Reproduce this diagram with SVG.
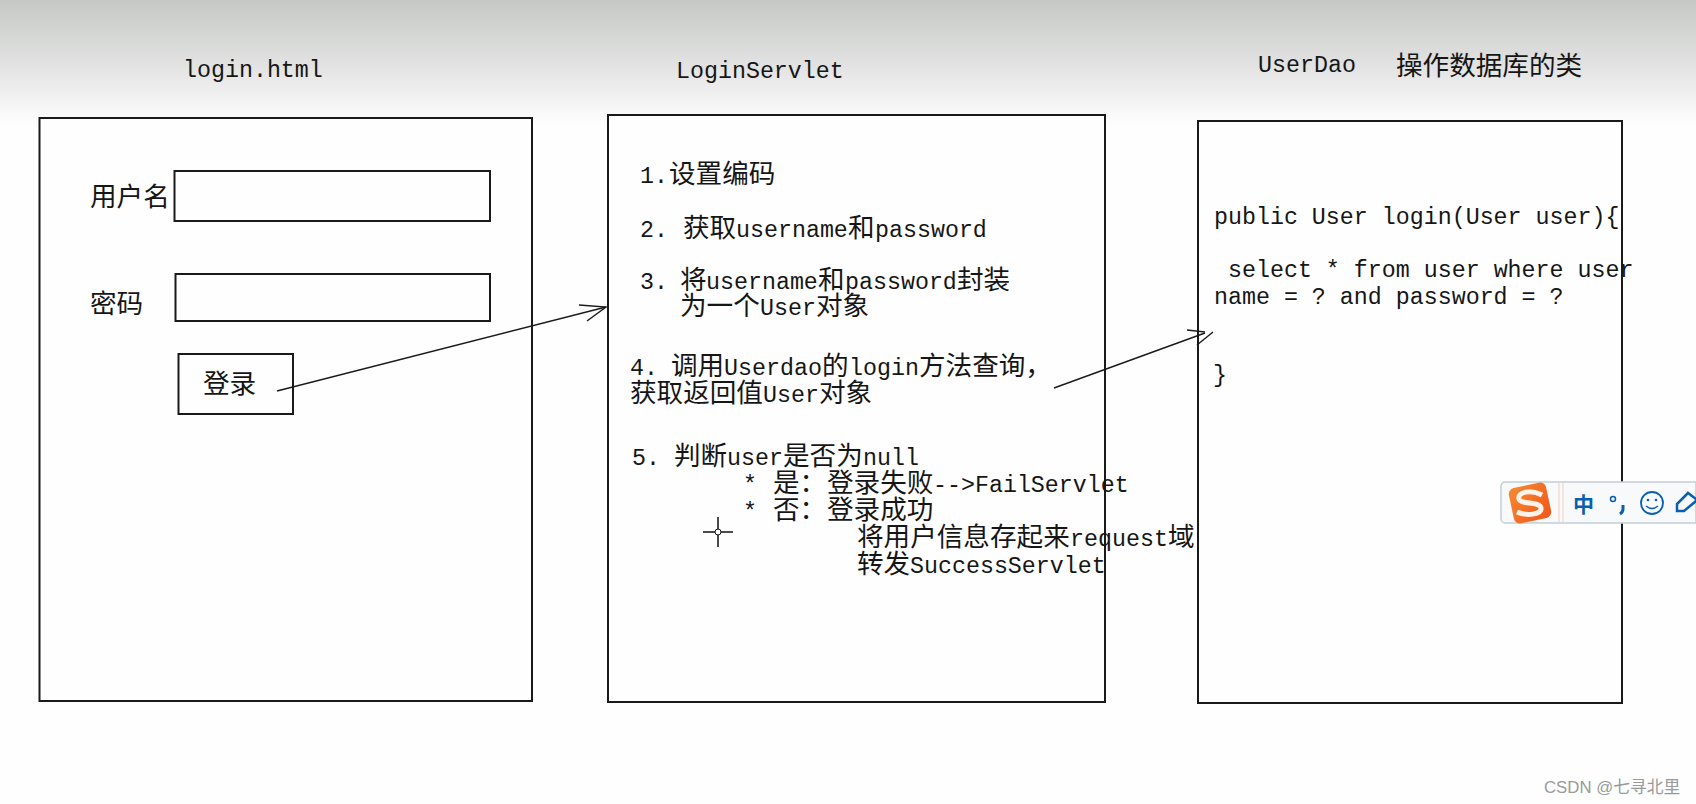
<svg xmlns="http://www.w3.org/2000/svg" width="1696" height="804" viewBox="0 0 1696 804">
<style>
text{font-family:"Liberation Mono","Noto Sans CJK SC",monospace;font-size:23.3px;fill:#161616;white-space:pre}
.c{font-family:"Noto Sans CJK SC","Liberation Sans",sans-serif;font-size:26.6px}
.box{fill:#fdfefd;stroke:#1a1a1a;stroke-width:2}
.thin{fill:none;stroke:#1a1a1a;stroke-width:1.4}
</style>
<defs>
<linearGradient id="top" x1="0" y1="0" x2="0" y2="1">
<stop offset="0" stop-color="#c6c8c6"/><stop offset="0.5" stop-color="#e0e1e0"/><stop offset="1" stop-color="#fdfefd"/>
</linearGradient>
<linearGradient id="sg" x1="0" y1="0" x2="1" y2="1">
<stop offset="0" stop-color="#f58a32"/><stop offset="1" stop-color="#f1561a"/>
</linearGradient>
</defs>
<rect width="1696" height="804" fill="#fdfefd"/>
<rect width="1696" height="125" fill="url(#top)"/>

<g id="login-page">
<rect class="box" x="39.500" y="118" width="492.500" height="583"/>
<text x="183" y="77">login.html</text>
<text x="90" y="206" class="c">用户名</text>
<rect class="box" x="174.500" y="171" width="315.500" height="50"/>
<text x="90" y="313" class="c">密码</text>
<rect class="box" x="175.500" y="274" width="314.500" height="47"/>
<rect class="box" x="178.500" y="354" width="114.500" height="60"/>
<text x="203" y="393" class="c">登录</text>
</g>

<g id="login-servlet">
<rect class="box" x="608" y="115" width="497" height="587"/>
<text x="676" y="78">LoginServlet</text>
<text x="640" y="183">1.<tspan x="669" class="c">设置编码</tspan></text>
<text x="640" y="237">2.<tspan x="683" class="c">获取</tspan><tspan x="736">username</tspan><tspan x="848" class="c">和</tspan><tspan x="875">password</tspan></text>
<text x="640" y="289">3.<tspan x="680" class="c">将</tspan><tspan x="706">username</tspan><tspan x="818" class="c">和</tspan><tspan x="845">password</tspan><tspan x="957" class="c">封装</tspan></text>
<text x="680" y="315"><tspan class="c">为一个</tspan><tspan x="760">User</tspan><tspan x="816" class="c">对象</tspan></text>
<text x="630" y="375">4.<tspan x="671" class="c">调用</tspan><tspan x="724">Userdao</tspan><tspan x="822" class="c">的</tspan><tspan x="849">login</tspan><tspan x="919" class="c">方法查询，</tspan></text>
<text x="630" y="402"><tspan class="c">获取返回值</tspan><tspan x="763">User</tspan><tspan x="819" class="c">对象</tspan></text>
<text x="632" y="465">5.<tspan x="674" class="c">判断</tspan><tspan x="727">user</tspan><tspan x="783" class="c">是否为</tspan><tspan x="863">null</tspan></text>
<text x="743" y="492">*<tspan x="773" class="c">是：</tspan><tspan x="827" class="c">登录失败</tspan><tspan x="933">--&gt;FailServlet</tspan></text>
<text x="743" y="519">*<tspan x="773" class="c">否：</tspan><tspan x="827" class="c">登录成功</tspan></text>
<text x="857" y="546"><tspan class="c">将用户信息存起来</tspan><tspan x="1070">request</tspan><tspan x="1168" class="c">域</tspan></text>
<text x="857" y="573"><tspan class="c">转发</tspan><tspan x="910">SuccessServlet</tspan></text>
</g>

<g id="user-dao">
<rect class="box" x="1198" y="121" width="424" height="582"/>
<text x="1258" y="72">UserDao</text>
<text x="1396" y="75" class="c">操作数据库的类</text>
<text x="1214" y="224">public User login(User user){</text>
<text x="1228" y="277">select * from user where user</text>
<text x="1214" y="304">name = ? and password = ?</text>
<text x="1213" y="382">}</text>
</g>

<g id="connectors">
<path class="thin" d="M277 391 L606 307"/>
<path class="thin" d="M579 305 L606 307 L587 321"/>
<path class="thin" d="M1054 388 L1205 333"/>
<path class="thin" d="M1187 330 L1205 332"/>
<path class="thin" d="M1197 345 L1213 332"/>
</g>

<g id="cursor">
<path d="M703 532H715M721 532H733M718 517V529M718 535V547" stroke="#111" stroke-width="1.5" fill="none"/>
<circle cx="718" cy="532" r="3" fill="none" stroke="#111" stroke-width="1"/>
</g>

<g id="ime-toolbar">
<path d="M1696 482H1505a4 4 0 0 0-4 4V519a4 4 0 0 0 4 4H1696Z" fill="#f7f9fa" stroke="#c3ced6" stroke-width="1.500"/>
<rect x="1511" y="485" width="38" height="36" rx="6" transform="rotate(-12 1530 503)" fill="url(#sg)"/>
<path d="M1542 495C1531 489 1517 492 1519 499C1521 505 1540 501 1541 508C1542 515 1526 516 1517 512" fill="none" stroke="#fff3ea" stroke-width="5"/>
<path d="M1559 483V522M1563 483V522" stroke="#f2d6c8" stroke-width="1.200"/>
<text x="1573" y="512" style="font-family:'Noto Sans CJK SC',sans-serif;font-size:21px;font-weight:700;fill:#0a5fb0">中</text>
<circle cx="1613" cy="499" r="2.500" fill="none" stroke="#0a5fb0" stroke-width="1.500"/>
<path d="M1623 505V509Q1623 512 1620 514" stroke="#0a5fb0" stroke-width="3" fill="none"/>
<circle cx="1652" cy="503" r="11" fill="none" stroke="#0a5fb0" stroke-width="1.800"/>
<circle cx="1648" cy="500" r="1.300" fill="#0a5fb0"/><circle cx="1656" cy="500" r="1.300" fill="#0a5fb0"/>
<path d="M1646 506Q1652 511 1658 506" fill="none" stroke="#0a5fb0" stroke-width="1.500"/>
<path d="M1677 511L1677 504L1688 493L1696 499V501L1684 511Z" fill="none" stroke="#0a5fb0" stroke-width="2.500"/>
</g>

<text id="watermark" x="1544" y="793" style="font-family:'Liberation Sans','Noto Sans CJK SC',sans-serif;font-size:16.800px;fill:#9a9a9a">CSDN @七寻北里</text>
</svg>
